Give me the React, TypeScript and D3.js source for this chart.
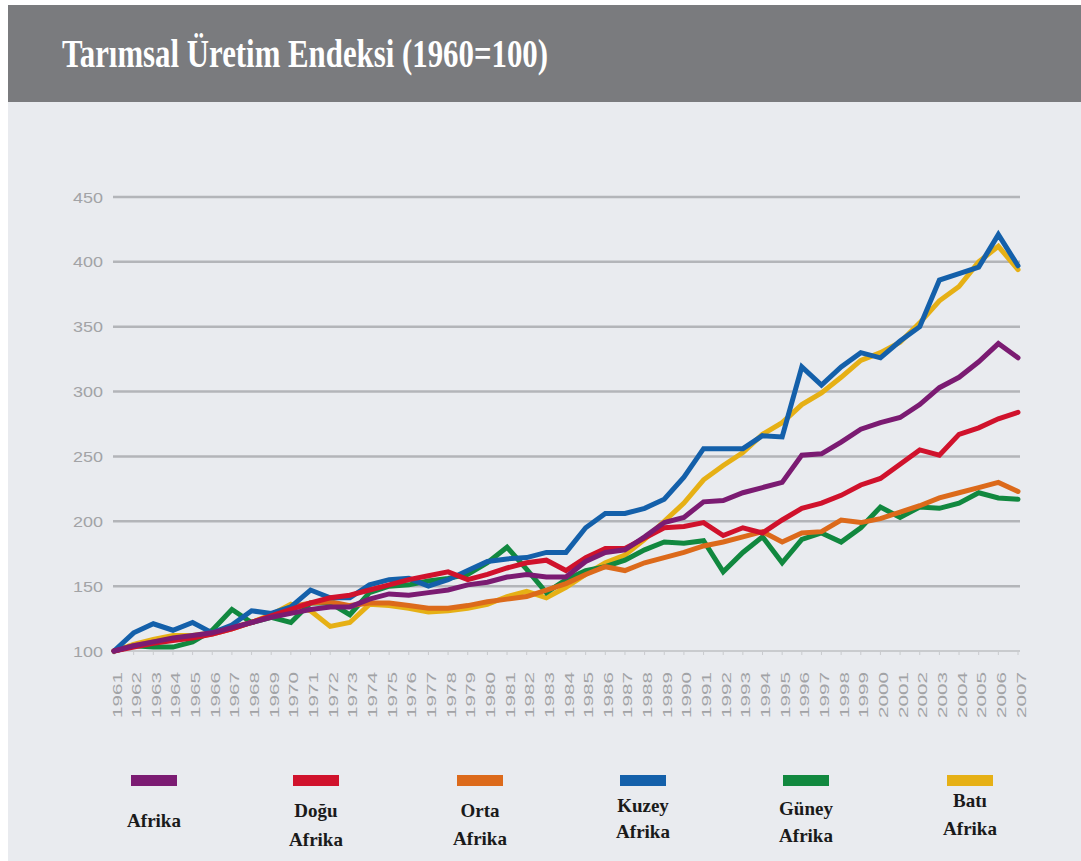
import React from "react";
import * as d3 from "d3";

const years = [1961,1962,1963,1964,1965,1966,1967,1968,1969,1970,1971,1972,1973,1974,1975,1976,1977,1978,1979,1980,1981,1982,1983,1984,1985,1986,1987,1988,1989,1990,1991,1992,1993,1994,1995,1996,1997,1998,1999,2000,2001,2002,2003,2004,2005,2006,2007];

const afrika = [100,104,107,110,112,114,118,122,126,129,132,134,134,140,144,143,145,147,151,153,157,159,157,157,169,176,178,188,199,203,215,216,222,226,230,251,252,261,271,276,280,290,303,311,323,337,326];
const doguAfrika = [100,103,106,108,110,113,117,122,127,132,137,141,143,147,151,155,158,161,155,159,164,168,170,162,172,179,179,187,195,196,199,189,195,191,201,210,214,220,228,233,244,255,251,267,272,279,284];
const ortaAfrika = [100,104,107,109,111,113,117,122,127,134,137,138,135,137,137,135,133,133,135,138,140,142,147,152,159,165,162,168,172,176,181,184,188,192,184,191,192,201,199,202,207,212,218,222,226,230,223];
const kuzeyAfrika = [100,114,121,116,122,114,120,131,129,134,147,141,141,151,155,156,150,155,162,169,171,172,176,176,195,206,206,210,217,234,256,256,256,266,265,319,305,319,330,326,339,350,386,391,396,421,397];
const guneyAfrika = [100,104,103,103,107,116,132,122,126,122,137,137,128,145,150,151,154,156,159,168,180,163,145,155,162,165,170,178,184,183,185,161,176,188,168,186,191,184,195,211,203,211,210,214,222,218,217];
const batiAfrika = [100,105,109,112,112,114,118,122,128,136,131,119,122,136,135,133,130,131,133,136,142,146,141,149,159,168,174,186,200,214,232,243,253,267,276,290,299,311,324,330,338,353,370,381,400,412,394];

const yTicks = [100,150,200,250,300,350,400,450];

const seriesNames = [["Afrika"],["Doğu","Afrika"],["Orta","Afrika"],["Kuzey","Afrika"],["Güney","Afrika"],["Batı","Afrika"]];
const seriesColors = ["#7b1b72","#d0122c","#dc6a1b","#1460aa","#11883f","#e6b015"];
const seriesData = [afrika, doguAfrika, ortaAfrika, kuzeyAfrika, guneyAfrika, batiAfrika];
const drawOrder = [5, 4, 2, 3, 1, 0];

const legendCenters = [154, 316, 480, 643, 806, 970];
const legendLineY = [[827], [817, 846], [817, 845], [812, 838], [815, 842], [807, 835]];

export default function App() {
  const W = 1081, H = 861;
  const x = d3.scaleLinear().domain([1961, 2007]).range([114, 1018]);
  const y = d3.scaleLinear().domain([100, 450]).range([651, 197]);
  const line = d3.line<number>().x((_, i) => x(years[i])).y((d) => y(d)).curve(d3.curveLinear);

  return (
    <svg width={W} height={H} style={{ position: "absolute", left: 0, top: 0, background: "#ffffff" }}>
      <rect x={8} y={5} width={W - 8} height={H - 5} fill="#e9ebef" />
      <rect x={8} y={5} width={W - 8} height={97} fill="#7a7b7e" />
      <text x={62} y={67} fill="#ffffff" fontFamily="'Liberation Serif', serif" fontWeight="bold" fontSize={40} textLength={486} lengthAdjust="spacingAndGlyphs">Tarımsal Üretim Endeksi (1960=100)</text>

      {yTicks.map((t) => (
        <g key={t}>
          {t !== 100 && <line x1={113} x2={1020} y1={y(t)} y2={y(t)} stroke="#b3b5b9" strokeWidth={2.5} />}
          <text x={103} y={y(t)} textAnchor="end" dominantBaseline="central" fill="#a2a3a6" fontFamily="'Liberation Sans', Arial, sans-serif" fontSize={15} textLength={30} lengthAdjust="spacingAndGlyphs">{t}</text>
        </g>
      ))}
      <line x1={113} x2={1020} y1={y(100)} y2={y(100)} stroke="#c9cbce" strokeWidth={2} />
      {years.map((yr) => (
        <g key={yr}>
          <line x1={x(yr)} x2={x(yr)} y1={y(100)} y2={y(100) + 4} stroke="#c9cbce" strokeWidth={1} />
          <text transform={`translate(${x(yr) + 3},${672}) rotate(-90)`} textAnchor="end" dominantBaseline="central" fill="#a2a3a6" fontFamily="'Liberation Sans', Arial, sans-serif" fontSize={13} textLength={46} lengthAdjust="spacingAndGlyphs">{yr}</text>
        </g>
      ))}

      {drawOrder.map((i) => (
        <path key={i} d={line(seriesData[i]) || ""} fill="none" stroke={seriesColors[i]} strokeWidth={5} strokeLinejoin="miter" strokeLinecap="round" />
      ))}

      {seriesNames.map((lines, i) => (
        <g key={i}>
          <rect x={legendCenters[i] - 23} y={775} width={46} height={11} fill={seriesColors[i]} />
          {lines.map((s, j) => (
            <text key={j} x={legendCenters[i]} y={legendLineY[i][j]} textAnchor="middle" fill="#1a1a1a" fontFamily="'Liberation Serif', serif" fontWeight="bold" fontSize={19}>{s}</text>
          ))}
        </g>
      ))}
    </svg>
  );
}
